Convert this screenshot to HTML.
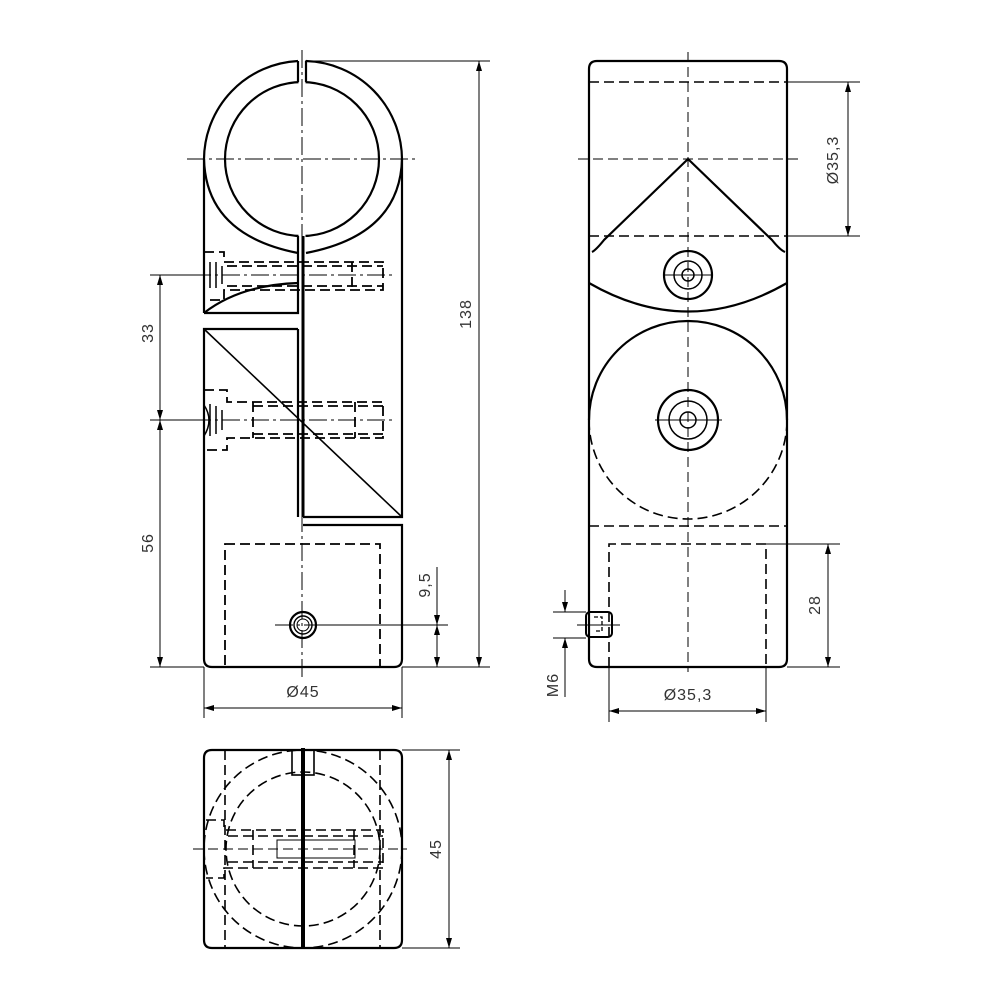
<!DOCTYPE html>
<html><head><meta charset="utf-8"><style>html,body{margin:0;padding:0;background:#fff}svg{display:block}</style></head>
<body>
<svg width="1000" height="1000" viewBox="0 0 1000 1000" xmlns="http://www.w3.org/2000/svg">
<defs>
<marker id="a" viewBox="0 0 10 6" refX="10" refY="3" markerWidth="10" markerHeight="6" orient="auto-start-reverse" markerUnits="userSpaceOnUse"><path d="M0,0 L10,3 L0,6 z" fill="#000"/></marker>
</defs>
<g fill="none" stroke="#000" stroke-linecap="butt">
<!-- FRONT VIEW -->
<g stroke-width="2.2">
<circle cx="302" cy="159" r="77"/>
<rect x="298.5" y="56" width="7" height="30" fill="#fff" stroke="none"/>
<rect x="298.5" y="232" width="7" height="8" fill="#fff" stroke="none"/>
<path d="M298,61 A99,99 0 0 0 204,159 L204,313"/>
<path d="M306,61 A99,99 0 0 1 402,159 L402,517 L303,517"/>
<path d="M204,159 Q206,235 298,253"/>
<path d="M402,159 Q400,235 306,253"/>
<line x1="298" y1="61" x2="298" y2="82"/><line x1="306" y1="61" x2="306" y2="82"/>
<path d="M204,313 L298,313 L298,236"/>
<path d="M204,313 Q240,285 298,283"/>
<line x1="303" y1="236" x2="303" y2="517" stroke-width="3"/>
<path d="M298,329 L204,329 L204,659 Q204,667 212,667 L394,667 Q402,667 402,659 L402,525 L303,525"/>
<line x1="298" y1="329" x2="298" y2="517"/>
<line x1="204" y1="329" x2="402" y2="517" stroke-width="1.6"/>
</g>
<g stroke-width="1.8" stroke-dasharray="10,5">
<path d="M204,252 H224 V262 H383 V290 H224 V300 H204"/>
<line x1="227" y1="266" x2="383" y2="266"/><line x1="227" y1="286" x2="383" y2="286"/>
<line x1="352" y1="262" x2="352" y2="290"/>
<path d="M204,390 H227 V402 H383 V438 H227 V450 H204"/>
<line x1="253" y1="406" x2="383" y2="406"/><line x1="253" y1="434" x2="383" y2="434"/>
<line x1="253" y1="402" x2="253" y2="438"/><line x1="355" y1="402" x2="355" y2="438"/>
<rect x="225" y="544" width="155" height="123"/>
</g>
<path d="M210,262 v26 M216,262 v26 M222,266 v18" stroke-width="1.5"/>
<path d="M210,404 v32 M216,406 v28 M222,410 v20" stroke-width="1.5"/>
<path d="M204,405 Q214,420 204,436" stroke-width="1.5"/>
<circle cx="303" cy="625" r="13" stroke-width="2.2"/>
<circle cx="303" cy="625" r="9" stroke-width="1.4"/>
<circle cx="303" cy="625" r="6" stroke-width="1"/>
<g stroke-width="1" stroke-dasharray="18,4,3,4">
<line x1="302" y1="50" x2="302" y2="680"/>
<line x1="187" y1="159" x2="418" y2="159"/>
<line x1="193" y1="275" x2="393" y2="275"/>
<line x1="193" y1="420" x2="393" y2="420"/>
<line x1="275" y1="625" x2="318" y2="625"/>
</g>
<!-- dims front -->
<g stroke-width="1">
<line x1="150" y1="275" x2="204" y2="275"/>
<line x1="150" y1="420" x2="204" y2="420"/>
<line x1="150" y1="667" x2="204" y2="667"/>
<line x1="160" y1="275" x2="160" y2="420" marker-start="url(#a)" marker-end="url(#a)"/>
<line x1="160" y1="420" x2="160" y2="667" marker-start="url(#a)" marker-end="url(#a)"/>
<line x1="305" y1="61" x2="490" y2="61"/>
<line x1="402" y1="667" x2="490" y2="667"/>
<line x1="479" y1="61" x2="479" y2="667" marker-start="url(#a)" marker-end="url(#a)"/>
<line x1="318" y1="625" x2="448" y2="625"/>
<line x1="437" y1="567" x2="437" y2="625" marker-end="url(#a)"/>
<line x1="437" y1="625" x2="437" y2="667" marker-start="url(#a)" marker-end="url(#a)"/>
<line x1="204" y1="667" x2="204" y2="718"/>
<line x1="402" y1="667" x2="402" y2="718"/>
<line x1="204" y1="708" x2="402" y2="708" marker-start="url(#a)" marker-end="url(#a)"/>
</g>
<!-- SIDE VIEW -->
<g stroke-width="2.2">
<path d="M597,61 H779 Q787,61 787,69 V659 Q787,667 779,667 H597 Q589,667 589,659 V69 Q589,61 597,61 Z"/>
<path d="M592,252 Q596,250 604,240 L688,159 L772,240 Q780,250 785,252"/>
<path d="M589,283 Q688,340 787,283"/>
<circle cx="688" cy="275" r="24"/>
<circle cx="688" cy="275" r="14" stroke-width="1.5"/>
<circle cx="688" cy="275" r="6" stroke-width="1.5"/>
<circle cx="688" cy="420" r="30"/>
<circle cx="688" cy="420" r="19" stroke-width="1.5"/>
<circle cx="688" cy="420" r="8" stroke-width="1.5"/>
<path d="M589,420 A99,99 0 0 1 787,420"/>
</g>
<g stroke-width="1.6" stroke-dasharray="10,5">
<line x1="589" y1="82" x2="787" y2="82"/>
<line x1="589" y1="236" x2="787" y2="236"/>
<path d="M589,420 A99,99 0 0 0 787,420"/>
<line x1="589" y1="526" x2="787" y2="526"/>
<path d="M609,667 V544 H766 V667"/>
<line x1="688" y1="52" x2="688" y2="672" stroke-width="1"/>
<line x1="578" y1="159" x2="798" y2="159" stroke-width="1"/>
</g>
<rect x="586" y="612" width="26" height="25" rx="4" stroke-width="2"/>
<path d="M594,617 h8 v14 h-8" stroke-width="1.3" stroke-dasharray="4,2"/>
<g stroke-width="1">
<line x1="665" y1="275" x2="712" y2="275"/>
<line x1="655" y1="420" x2="722" y2="420"/>
<line x1="577" y1="625" x2="620" y2="625"/>
<line x1="787" y1="82" x2="860" y2="82"/>
<line x1="787" y1="236" x2="860" y2="236"/>
<line x1="848" y1="82" x2="848" y2="236" marker-start="url(#a)" marker-end="url(#a)"/>
<line x1="766" y1="544" x2="840" y2="544"/>
<line x1="787" y1="667" x2="840" y2="667"/>
<line x1="828" y1="544" x2="828" y2="667" marker-start="url(#a)" marker-end="url(#a)"/>
<line x1="609" y1="667" x2="609" y2="722"/>
<line x1="766" y1="667" x2="766" y2="722"/>
<line x1="609" y1="711" x2="766" y2="711" marker-start="url(#a)" marker-end="url(#a)"/>
<line x1="553" y1="612" x2="586" y2="612"/>
<line x1="553" y1="638" x2="586" y2="638"/>
<line x1="565" y1="590" x2="565" y2="612" marker-end="url(#a)"/>
<line x1="565" y1="660" x2="565" y2="638" marker-end="url(#a)"/>
<line x1="565" y1="660" x2="565" y2="697"/>
</g>
<!-- BOTTOM VIEW -->
<g stroke-width="2.2">
<path d="M212,750 H394 Q402,750 402,758 V940 Q402,948 394,948 H212 Q204,948 204,940 V758 Q204,750 212,750 Z"/>
<rect x="292" y="750" width="22" height="25" stroke-width="1.6"/>
</g>
<line x1="303" y1="748" x2="303" y2="948" stroke-width="4"/>
<g stroke-width="1.6" stroke-dasharray="10,5">
<line x1="225" y1="750" x2="225" y2="948"/>
<line x1="380" y1="750" x2="380" y2="948"/>
<circle cx="303" cy="849" r="99"/>
<circle cx="303" cy="849" r="77"/>
<path d="M206,820 H224 V830 H383 V868 H224 V878 H206"/>
<line x1="228" y1="836" x2="383" y2="836"/><line x1="228" y1="862" x2="383" y2="862"/>
<line x1="253" y1="830" x2="253" y2="868"/><line x1="354" y1="830" x2="354" y2="868"/>
<line x1="193" y1="849" x2="407" y2="849" stroke-width="1"/>
</g>
<rect x="277" y="840" width="78" height="18" stroke-width="1"/>
<g stroke-width="1">
<line x1="402" y1="750" x2="460" y2="750"/>
<line x1="402" y1="948" x2="460" y2="948"/>
<line x1="449" y1="750" x2="449" y2="948" marker-start="url(#a)" marker-end="url(#a)"/>
</g>
</g>
<g font-family="'Liberation Sans', sans-serif" font-size="16" fill="#333" letter-spacing="1" text-anchor="middle">
<text transform="translate(153,333) rotate(-90)">33</text>
<text transform="translate(153,543) rotate(-90)">56</text>
<text transform="translate(471,314) rotate(-90)">138</text>
<text transform="translate(430,585) rotate(-90)">9,5</text>
<text x="303" y="697">Ø45</text>
<text transform="translate(838,160) rotate(-90)">Ø35,3</text>
<text transform="translate(820,605) rotate(-90)">28</text>
<text x="688" y="700">Ø35,3</text>
<text transform="translate(558,685) rotate(-90)">M6</text>
<text transform="translate(441,849) rotate(-90)">45</text>
</g>
</svg>
</body></html>
